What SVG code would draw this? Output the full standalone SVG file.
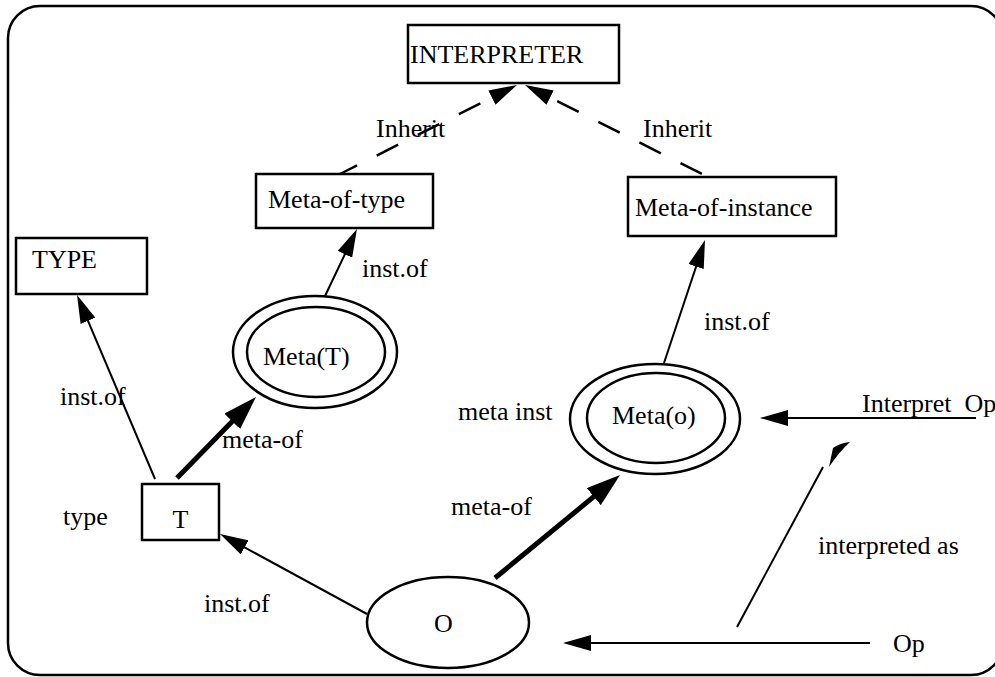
<svg xmlns="http://www.w3.org/2000/svg" width="995" height="677" viewBox="0 0 995 677">
<defs>
<style>
text{font-family:"Liberation Serif","Times New Roman",serif;font-size:26px;fill:#000}
.box{fill:#fff;stroke:#000;stroke-width:2.5}
.ell{fill:#fff;stroke:#000;stroke-width:2.5}
.thin{fill:none;stroke:#000;stroke-width:2;marker-end:url(#arr)}
.thick{fill:none;stroke:#000;stroke-width:5;marker-end:url(#arrBig)}
.dash{fill:none;stroke:#000;stroke-width:2.5;stroke-dasharray:24 22;marker-start:url(#arrRev)}
</style>
<marker id="arr" viewBox="0 0 28 16" refX="23" refY="8" markerWidth="28" markerHeight="16" markerUnits="userSpaceOnUse" orient="auto">
<path d="M0,0 L28,8 L0,16 Z" fill="#000"/>
</marker>
<marker id="arrRev" viewBox="0 0 28 16" refX="23" refY="8" markerWidth="28" markerHeight="16" markerUnits="userSpaceOnUse" orient="auto-start-reverse">
<path d="M0,0 L28,8 L0,16 Z" fill="#000"/>
</marker>
<marker id="arrBig" viewBox="0 0 34 22" refX="24" refY="11" markerWidth="34" markerHeight="22" markerUnits="userSpaceOnUse" orient="auto">
<path d="M0,0 L34,11 L0,22 Z" fill="#000"/>
</marker>
</defs>
<rect id="frame" x="8" y="6" width="995" height="669" rx="32" ry="32" fill="#fff" stroke="#000" stroke-width="2.5"/>

<g id="connectors">
<path class="dash" d="M512.5,87.2 L340,174" stroke-dashoffset="10"/>
<path class="dash" d="M529.5,87.2 L708,177" stroke-dashoffset="15"/>
<path class="thin" d="M155,479 L79,299.6"/>
<path class="thin" d="M325,296 L354.8,233.5"/>
<path class="thin" d="M664,363 L703.4,244.7"/>
<path class="thin" d="M367,614 L224.4,536.4"/>
<path class="thin" d="M870,643 L568,643"/>
<path class="thin" d="M976,418 L765,418"/>
<path class="thick" d="M177,478 L249,404.2"/>
<path class="thick" d="M495,578 L612.3,481.4"/>
<path d="M737,627 L823,467" fill="none" stroke="#000" stroke-width="2"/>
<path d="M829,467 L833,448 Q840,443 850,442 Q839,452 829,467 Z" fill="#000"/>
</g>

<g id="interpreter"><rect class="box" x="408" y="25" width="211" height="58"/><text x="410" y="63">INTERPRETER</text></g>
<g id="meta-of-type"><rect class="box" x="256" y="174" width="177" height="54"/><text x="268" y="208">Meta-of-type</text></g>
<g id="meta-of-instance"><rect class="box" x="628" y="177" width="208" height="59"/><text x="635" y="216">Meta-of-instance</text></g>
<g id="type"><rect class="box" x="16" y="238" width="131" height="56"/><text x="32" y="268">TYPE</text></g>
<g id="meta-t"><ellipse class="ell" cx="315" cy="352" rx="82" ry="56"/><ellipse class="ell" cx="316" cy="352" rx="69" ry="45"/><text x="263" y="365">Meta(T)</text></g>
<g id="meta-o"><ellipse class="ell" cx="655" cy="419" rx="85" ry="55"/><ellipse class="ell" cx="656" cy="418" rx="69" ry="45"/><text x="612" y="424">Meta(o)</text></g>
<g id="t"><rect class="box" x="142" y="484" width="77" height="56"/><text x="172.5" y="528">T</text></g>
<g id="o"><ellipse class="ell" cx="448" cy="622.5" rx="81" ry="45.5"/><text x="434" y="632">O</text></g>

<g id="labels">
<text x="376" y="137">Inherit</text>
<text x="643" y="137">Inherit</text>
<text x="362" y="277">inst.of</text>
<text x="704" y="330">inst.of</text>
<text x="60" y="405">inst.of</text>
<text x="222" y="448">meta-of</text>
<text x="458" y="420">meta inst</text>
<text x="862" y="412" xml:space="preserve" style="white-space:pre">Interpret  Op</text>
<text x="451" y="515">meta-of</text>
<text x="63" y="525">type</text>
<text x="818" y="554">interpreted as</text>
<text x="204" y="612">inst.of</text>
<text x="893" y="652">Op</text>
</g>
</svg>
